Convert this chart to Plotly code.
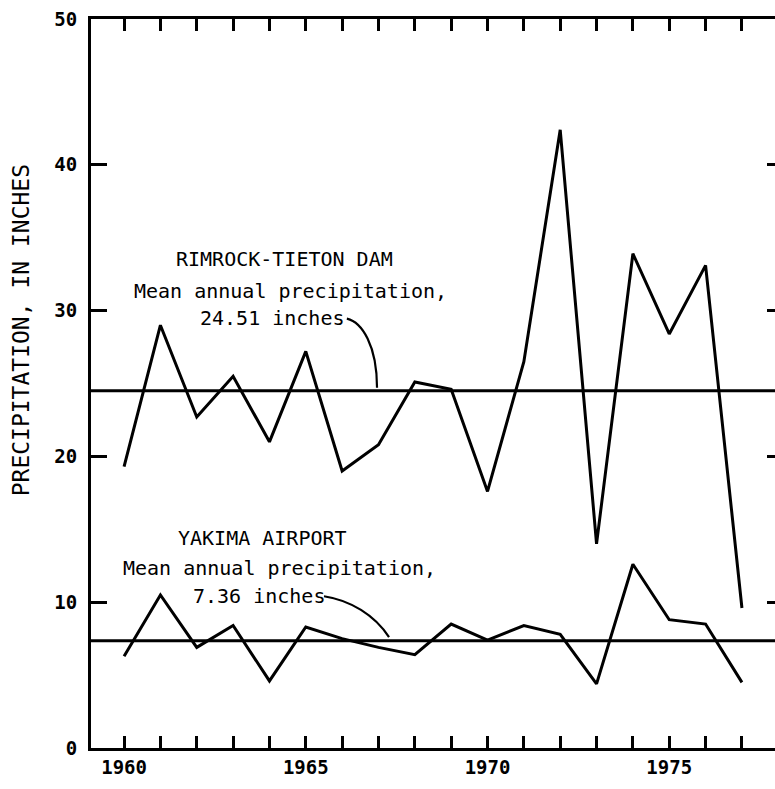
import plotly.graph_objects as go

years = list(range(1960, 1978))
rimrock = [19.3, 29.0, 22.7, 25.5, 21.0, 27.2, 19.0, 20.8, 25.1, 24.6, 17.6, 26.5,
           42.4, 14.0, 33.9, 28.4, 33.1, 9.6]
yakima = [6.3, 10.5, 6.9, 8.4, 4.6, 8.3, 7.5, 6.9, 6.4, 8.5, 7.4, 8.4,
          7.8, 4.4, 12.6, 8.8, 8.5, 4.5]
rimrock_mean = 24.51
yakima_mean = 7.36
x_tick_labels = {1960: "1960", 1965: "1965", 1970: "1970", 1975: "1975"}
y_ticks = [0, 10, 20, 30, 40, 50]

FONT = "DejaVu Sans Mono"
LW = 3

fig = go.Figure()
for series in (rimrock, yakima):
    fig.add_trace(go.Scatter(x=years, y=series, mode="lines",
                             line=dict(color="black", width=LW),
                             hoverinfo="skip", showlegend=False))
# invisible trace to anchor the right-hand tick axis
fig.add_trace(go.Scatter(x=[years[0]], y=[0], yaxis="y2", mode="markers",
                         marker=dict(opacity=0), hoverinfo="skip", showlegend=False))

for m in (rimrock_mean, yakima_mean):
    fig.add_shape(type="line", xref="paper", x0=0, x1=1, yref="y", y0=m, y1=m,
                  line=dict(color="black", width=LW))

# leader curves
fig.add_shape(type="path", xref="x", yref="y",
              path="M 1966.13,29.45 C 1966.55,29.2 1966.96,27.6 1966.96,24.7",
              line=dict(color="black", width=2.2))
fig.add_shape(type="path", xref="x", yref="y",
              path="M 1965.5,10.41 C 1966.22,10.14 1966.9,9.11 1967.29,7.6",
              line=dict(color="black", width=2.2))

labels = [
    ("RIMROCK-TIETON DAM", 1964.42, 33.56),
    ("Mean annual precipitation,", 1964.58, 31.37),
    (f"{rimrock_mean:.2f} inches", 1964.09, 29.52),
    ("YAKIMA AIRPORT", 1963.82, 14.38),
    ("Mean annual precipitation,", 1964.29, 12.33),
    (f"{yakima_mean:.2f} inches", 1963.70, 10.41),
]
for txt, x, y in labels:
    fig.add_annotation(x=x, y=y, xref="x", yref="y", text=txt, showarrow=False,
                       font=dict(family=FONT, size=20, color="black"),
                       xanchor="center", yanchor="middle")

# y-axis title (placed as in the original, above centre)
fig.add_annotation(x=-0.1023, y=0.573, xref="paper", yref="paper",
                   text="PRECIPITATION, IN INCHES", textangle=-90, showarrow=False,
                   font=dict(family=FONT, size=23, color="black"),
                   xanchor="center", yanchor="middle")

fig.update_layout(
    width=775, height=789,
    margin=dict(l=91, r=0, t=19, b=41),
    paper_bgcolor="white", plot_bgcolor="white",
    showlegend=False,
    xaxis=dict(range=[1959.09, 1977.91], tickvals=years,
               ticktext=[x_tick_labels.get(y, "") for y in years],
               ticks="inside", ticklen=12, tickwidth=2.5, tickcolor="black",
               showline=True, linewidth=LW, linecolor="black", mirror="ticks",
               showgrid=False, zeroline=False,
               tickfont=dict(family=FONT, size=19, color="black", weight="bold")),
    yaxis=dict(range=[0, 50], tickvals=y_ticks,
               ticks="inside", ticklen=16, tickwidth=2.5, tickcolor="black",
               showline=True, linewidth=LW, linecolor="black", mirror=False,
               showgrid=False, zeroline=False, ticklabelstandoff=7,
               tickfont=dict(family=FONT, size=19, color="black", weight="bold")),
    yaxis2=dict(range=[0, 50], overlaying="y", side="right",
                tickvals=y_ticks[1:-1], ticks="inside", ticklen=8, tickwidth=2.5,
                tickcolor="black", showticklabels=False, showline=False,
                showgrid=False, zeroline=False),
)

fig.write_html("out.html")
